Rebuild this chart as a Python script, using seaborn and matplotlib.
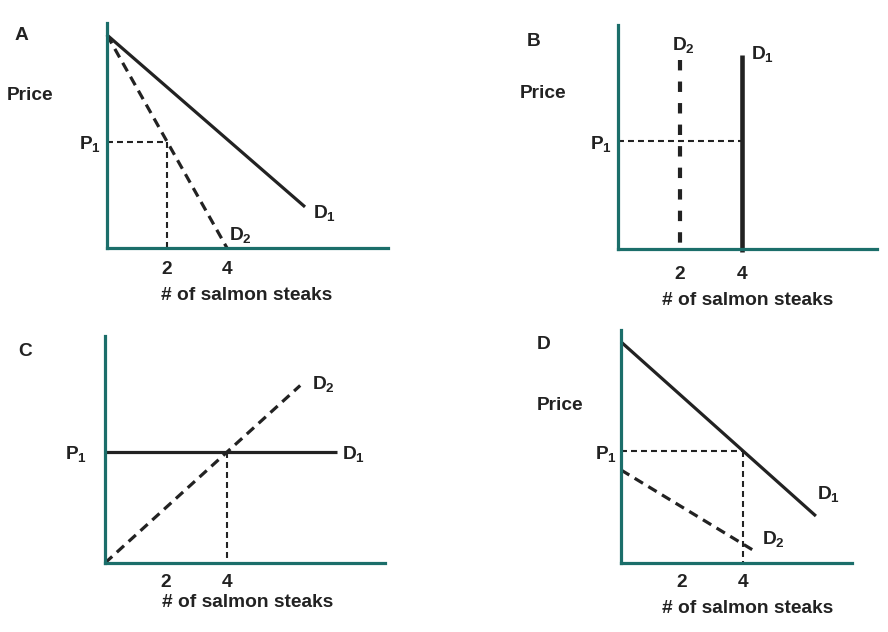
import matplotlib
matplotlib.use("Agg")
import matplotlib.pyplot as plt
import seaborn as sns

# panel A: two demand curves from the same intercept
a_d1_q = [0, 6.6]
a_d1_p = [7.1, 1.37]
a_d2_q = [0, 4]
a_d2_p = [7.1, 0]
a_q1, a_p1 = 2, 3.55

# panel B: vertical demand curves
b_d1_q = [4, 4]
b_d1_p = [6.26, -0.1]
b_d2_q = [2, 2]
b_d2_p = [6.1, -0.05]
b_q1, b_p1 = 4, 3.48

# panel C: flat D1, upward D2
c_d1_q = [0, 7.6]
c_d1_p = [3.64, 3.64]
c_d2_q = [0, 6.4]
c_d2_p = [0, 5.82]
c_q1, c_p1 = 4, 3.64

# panel D: parallel shift down
d_d1_q = [0, 6.39]
d_d1_p = [7.25, 1.54]
d_d2_q = [0, 4.43]
d_d2_p = [3.05, 0.36]
d_q1, d_p1 = 4, 3.66

x_ticks = [2, 4]
x_tick_labels = ["2", "4"]

sns.set_theme(style="white")
plt.rcParams["font.family"] = ["Liberation Sans", "DejaVu Sans"]
plt.rcParams["font.weight"] = "bold"
plt.rcParams["mathtext.fontset"] = "custom"
plt.rcParams["mathtext.rm"] = "Liberation Sans:bold"
plt.rcParams["mathtext.bf"] = "Liberation Sans:bold"
plt.rcParams["mathtext.it"] = "Liberation Sans:bold:italic"
plt.rcParams["lines.scale_dashes"] = False

TEAL = "#1b6e6a"
INK = "#222222"
FS = 13.8
W, H = 888, 632

fig = plt.figure(figsize=(W / 100, H / 100), dpi=100)


def make_axes(left, right, top, bottom, ppu_x, ppu_y):
    ax = fig.add_axes([left / W, (H - bottom) / H, (right - left) / W, (bottom - top) / H])
    ax.set_xlim(0, (right - left) / ppu_x)
    ax.set_ylim(0, (bottom - top) / ppu_y)
    sns.despine(ax=ax)
    for side in ("left", "bottom"):
        ax.spines[side].set_color(TEAL)
        ax.spines[side].set_linewidth(2.3)
    ax.set_facecolor("none")
    return ax


def curve(ax, q, p, width, dashes=None):
    sns.lineplot(x=q, y=p, ax=ax, estimator=None, sort=False, color=INK, linewidth=width)
    line = ax.lines[-1]
    line.set_clip_on(False)
    line.set_solid_capstyle("butt")
    if dashes:
        line.set_dashes(dashes)
        line.set_dash_capstyle("butt")


def guide(ax, q, p):
    curve(ax, q, p, 1.5, (4.3, 2.9))


def dlabel(ax, x, y, n):
    ax.text(x, y, r"$\mathrm{D}_{%d}$" % n, fontsize=FS, color=INK, va="center", ha="left")


def finish(ax, p1, p1_pad, x_pad, xlab_x, xlab_y):
    ax.set_yticks([p1], labels=[r"$\mathrm{P}_{1}$"])
    ax.set_xticks(x_ticks, labels=x_tick_labels)
    ax.tick_params(axis="y", length=0, labelsize=FS, pad=p1_pad, labelcolor=INK)
    ax.tick_params(axis="x", length=0, labelsize=FS, pad=x_pad, labelcolor=INK)
    for t in ax.get_xticklabels() + ax.get_yticklabels():
        t.set_fontweight("bold")
    ax.set_xlabel("# of salmon steaks", fontsize=FS, color=INK, va="center", fontweight="bold")
    ax.xaxis.set_label_coords(xlab_x, xlab_y, transform=ax.transData)


def corner(ax, letter, lx, ly, price=None):
    ax.text(lx, ly, letter, fontsize=FS, color=INK, va="center", ha="left", clip_on=False)
    if price:
        ax.text(price[0], price[1], "Price", fontsize=FS, color=INK, va="center", ha="left",
                clip_on=False)


# ---- A ----
ax = make_axes(107, 388, 23, 248, 30, 30)
curve(ax, a_d1_q, a_d1_p, 2.3)
curve(ax, a_d2_q, a_d2_p, 2.3, (7, 4.5))
guide(ax, [0, a_q1], [a_p1, a_p1])
guide(ax, [a_q1, a_q1], [a_p1, 0])
dlabel(ax, 6.87, 1.17, 1)
dlabel(ax, 4.07, 0.43, 2)
corner(ax, "A", -3.07, 7.1, (-3.33, 5.1))
finish(ax, a_p1, 4, 9, 4.67, -1.57)

# ---- B ----
ax = make_axes(618, 877, 25, 249, 31, 31)
curve(ax, b_d1_q, b_d1_p, 3.3)
curve(ax, b_d2_q, b_d2_p, 3.0, (7.5, 8))
guide(ax, [0, b_q1], [b_p1, b_p1])
dlabel(ax, 1.74, 6.58, 2)
dlabel(ax, 4.29, 6.29, 1)
corner(ax, "B", -2.94, 6.68, (-3.16, 5.03))
finish(ax, b_p1, 4, 12, 4.19, -1.65)

# ---- C ----
ax = make_axes(105, 385, 336, 563, 30.5, 30.5)
curve(ax, c_d1_q, c_d1_p, 2.3)
curve(ax, c_d2_q, c_d2_p, 2.3, (7, 4.5))
guide(ax, [c_q1, c_q1], [c_p1, 0])
dlabel(ax, 7.77, 3.57, 1)
dlabel(ax, 6.79, 5.87, 2)
corner(ax, "C", -2.85, 6.95)
finish(ax, c_p1, 13, 8, 4.66, -1.31)

# ---- D ----
ax = make_axes(621, 852, 330, 563, 30.5, 30.5)
curve(ax, d_d1_q, d_d1_p, 2.3)
curve(ax, d_d2_q, d_d2_p, 2.3, (7, 4.5))
guide(ax, [0, d_q1], [d_p1, d_p1])
guide(ax, [d_q1, d_q1], [d_p1, 0])
dlabel(ax, 6.43, 2.26, 1)
dlabel(ax, 4.62, 0.79, 2)
corner(ax, "D", -2.75, 7.15, (-2.75, 5.18))
finish(ax, d_p1, 3, 8, 4.16, -1.48)

fig.savefig("out.png", dpi=100, facecolor="white")
